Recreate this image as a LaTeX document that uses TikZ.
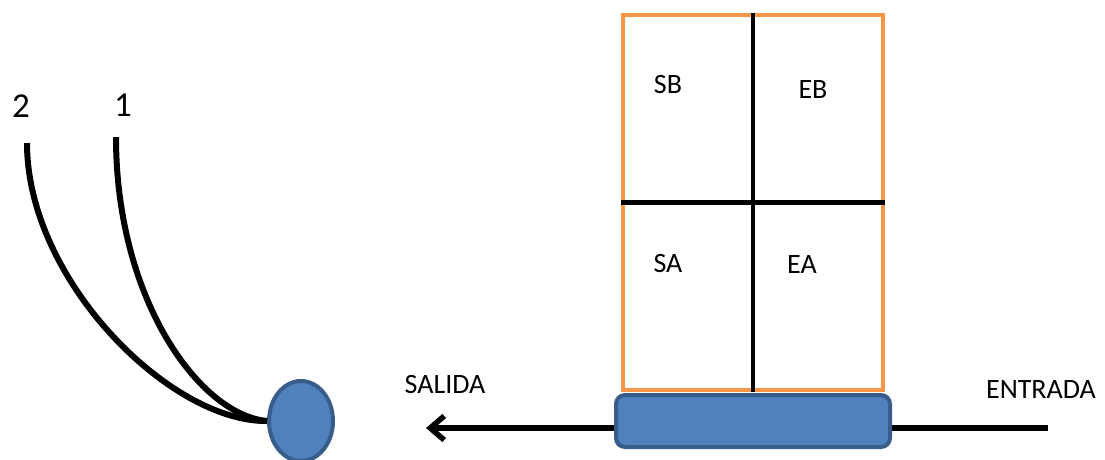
\documentclass[tikz,border=0pt]{standalone}
\usepackage{fontspec}
\setmainfont{Carlito}
\usepackage{tikz}
\usetikzlibrary{arrows.meta, positioning, shapes.geometric, calc}
\definecolor{ofblue}{HTML}{4F81BD}
\definecolor{ofblueline}{HTML}{385D8A}
\definecolor{oforange}{HTML}{F79646}

\begin{document}
\begin{tikzpicture}[
    x=1pt, y=-1pt,
    lbl/.style={inner sep=0pt, font=\fontsize{28}{32}\selectfont},
    num/.style={inner sep=0pt, font=\fontsize{35}{40}\selectfont},
    bldg/.style={draw=oforange, line width=4pt, minimum width=260pt, minimum height=375pt, inner sep=0pt},
    belt/.style={draw=ofblueline, fill=ofblue, line width=4pt, rounded corners=9pt, minimum width=274pt, minimum height=52pt, inner sep=0pt},
    ball/.style={ellipse, draw=ofblueline, fill=ofblue, line width=4pt, minimum width=64pt, minimum height=80pt, inner sep=0pt},
    grid/.style={line width=4.8pt},
    wire/.style={line width=6pt},
    arr/.style={-{Straight Barb[length=14pt, width=24pt]}, line width=5.5pt}
]
\useasboundingbox (0,0) rectangle (1105,459);

% storage block
\node[bldg] (box) at (753,202.5) {};
\draw[grid] (box.north) -- (box.south);
\draw[grid] (box.west) -- (box.east);
\node[lbl] (sb) at (668,84.5) {SB};
\node[lbl] (eb) at (813,89.5) {EB};
\node[lbl] (sa) at (668,263.5) {SA};
\node[lbl] (ea) at (802,265) {EA};

% conveyor
\coordinate (inEnd) at (1048,428);
\coordinate (outEnd) at (426,428);
\draw[arr] (inEnd) -- (outEnd);
\node[belt] (bt) at (753,421) {};
\node[lbl] (salida) at (445,385) {SALIDA};
\node[lbl] (entrada) at (1041,389.5) {ENTRADA};

% ball with two wires
\node[ball] (bl) at (301,421) {};
\coordinate (w2) at (27,143);
\coordinate (w1) at (116,137);
\draw[wire] (w2) .. controls (27,280) and (170,422) .. (bl.west);
\draw[wire] (w1) .. controls (116,300) and (200,415) .. (bl.west);
\node[num] (n2) at (21,106) {2};
\node[num] (n1) at (123,105) {1};
\end{tikzpicture}
\end{document}
